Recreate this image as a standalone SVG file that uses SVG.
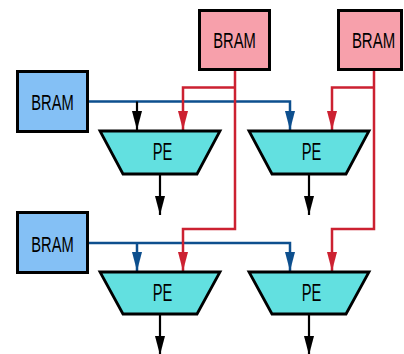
<svg xmlns="http://www.w3.org/2000/svg" width="404" height="354" viewBox="0 0 404 354">
  <style>
    .bram-b { fill: #84c0f5; stroke: #000; stroke-width: 3; }
    .bram-r { fill: #f7a0ab; stroke: #000; stroke-width: 3; }
    .pe { fill: #62e0e0; stroke: #000; stroke-width: 2.8; stroke-linejoin: miter; }
    .lbl { font-family: "Liberation Sans", Arial, sans-serif; font-size: 22px; fill: #000; text-anchor: middle; }
    .pelbl { font-family: "Liberation Sans", Arial, sans-serif; font-size: 24.5px; fill: #000; text-anchor: middle; }
    .w { fill: none; stroke-width: 2.5; }
    .blue { stroke: #0d4f8e; }
    .red { stroke: #cc2131; }
    .blk { stroke: #000; stroke-width: 2.2; }
  </style>
  <defs>
    <marker id="ah-blue" markerUnits="userSpaceOnUse" markerWidth="19" markerHeight="10" refX="19" refY="5" orient="auto">
      <path d="M0,0 L19,5 L0,10 z" fill="#0d4f8e"/>
    </marker>
    <marker id="ah-red" markerUnits="userSpaceOnUse" markerWidth="19" markerHeight="10" refX="19" refY="5" orient="auto">
      <path d="M0,0 L19,5 L0,10 z" fill="#cc2131"/>
    </marker>
    <marker id="ah-blk" markerUnits="userSpaceOnUse" markerWidth="19" markerHeight="10" refX="19" refY="5" orient="auto">
      <path d="M0,0 L19,5 L0,10 z" fill="#000"/>
    </marker>
  </defs>

  <rect width="404" height="354" fill="#fff"/>

  <!-- connectors -->
  <g id="connectors">
    <!-- row 1 blue bus -->
    <path class="w blue" d="M88,101.5 H290 V130" marker-end="url(#ah-blue)"/>
    <path class="w blk" d="M137,101.5 V130" marker-end="url(#ah-blk)"/>
    <!-- row 2 blue bus -->
    <path class="w blue" d="M88,243 H290 V271" marker-end="url(#ah-blue)"/>
    <path class="w blue" d="M137,243 V271" marker-end="url(#ah-blue)"/>
    <!-- red column 1 -->
    <path class="w red" d="M235,70 V229 H183 V271" marker-end="url(#ah-red)"/>
    <path class="w red" d="M235,87.5 H183 V130" marker-end="url(#ah-red)"/>
    <!-- red column 2 -->
    <path class="w red" d="M374,70 V229 H332 V271" marker-end="url(#ah-red)"/>
    <path class="w red" d="M374,87.5 H332 V130" marker-end="url(#ah-red)"/>
    <!-- PE outputs -->
    <path class="w blk" d="M160,174 V215" marker-end="url(#ah-blk)"/>
    <path class="w blk" d="M309,174 V215" marker-end="url(#ah-blk)"/>
    <path class="w blk" d="M160,314 V355" marker-end="url(#ah-blk)"/>
    <path class="w blk" d="M309,314 V355" marker-end="url(#ah-blk)"/>
  </g>

  <!-- memories (labels condensed horizontally) -->
  <g id="bram-left-1">
    <rect class="bram-b" x="17.5" y="71.5" width="70" height="60"/>
    <text class="lbl" transform="translate(52.5,110) scale(0.67,1)">BRAM</text>
  </g>
  <g id="bram-left-2">
    <rect class="bram-b" x="17.5" y="212.5" width="70" height="60"/>
    <text class="lbl" transform="translate(52.5,252) scale(0.67,1)">BRAM</text>
  </g>
  <g id="bram-top-1">
    <rect class="bram-r" x="199.5" y="10.5" width="70" height="59"/>
    <text class="lbl" transform="translate(234.5,47.5) scale(0.67,1)">BRAM</text>
  </g>
  <g id="bram-top-2">
    <rect class="bram-r" x="338.5" y="10.5" width="63" height="59"/>
    <text class="lbl" transform="translate(373.5,47.5) scale(0.68,1)">BRAM</text>
  </g>

  <!-- processing elements -->
  <g id="pe-1-1">
    <polygon class="pe" points="100,131 220,131 197,174 123,174"/>
    <text class="pelbl" transform="translate(162.5,160) scale(0.6,1)">PE</text>
  </g>
  <g id="pe-1-2">
    <polygon class="pe" points="249,131 369,131 346,174 272,174"/>
    <text class="pelbl" transform="translate(311.5,160) scale(0.6,1)">PE</text>
  </g>
  <g id="pe-2-1">
    <polygon class="pe" points="100,272 220,272 197,314 123,314"/>
    <text class="pelbl" transform="translate(162.5,301) scale(0.6,1)">PE</text>
  </g>
  <g id="pe-2-2">
    <polygon class="pe" points="249,272 369,272 346,314 272,314"/>
    <text class="pelbl" transform="translate(311.5,301) scale(0.6,1)">PE</text>
  </g>
</svg>
